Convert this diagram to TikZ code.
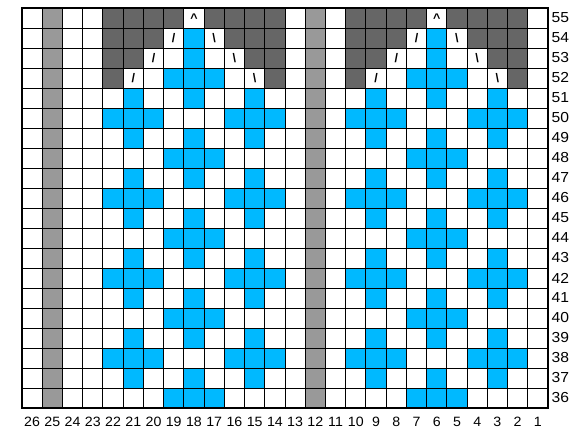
\documentclass[tikz,border=0pt]{standalone}
\usepackage{fontspec}
\setmainfont{Liberation Sans}
\definecolor{kblue}{RGB}{0,185,255}
\definecolor{kdark}{RGB}{102,102,102}
\definecolor{kgray}{RGB}{153,153,153}
\newcommand\kcw{20.2308}
\newcommand\kcell[3]{\fill[#1] ({22+(26-(#2))*\kcw},{8+(55-(#3))*20}) rectangle ++(\kcw,20);}
\tikzset{
  gridline/.style={line width=0.9pt,black},
  frameline/.style={line width=2.8pt,black},
  rowlab/.style={font=\fontsize{14.5}{14.5}\selectfont,inner sep=0pt,anchor=west,xscale=1.08},
  collab/.style={font=\fontsize{13.5}{13.5}\selectfont,inner sep=0pt,xscale=1.05},
  sym/.style={font=\bfseries\fontsize{12.5}{12.5}\selectfont,inner sep=0pt}
}
\begin{document}
\begin{tikzpicture}[x=1pt,y=-1pt]
\useasboundingbox (0,0) rectangle (585,433);
\fill[white] (0,0) rectangle (585,433);
% gray columns
\foreach \c in {25,12}{\fill[kgray] ({22+(26-\c)*\kcw},8) rectangle ++(\kcw,400);}
% motifs
\foreach \o in {0,12}{
  \foreach \r in {36,40,44,48,52}{\foreach \c in {19,18,17}{\kcell{kblue}{\c-\o}{\r}}}
  \foreach \r in {37,39,41,43,45,47,49,51}{\foreach \c in {21,18,15}{\kcell{kblue}{\c-\o}{\r}}}
  \foreach \r in {38,42,46,50}{\foreach \c in {22,21,20,16,15,14}{\kcell{kblue}{\c-\o}{\r}}}
  \kcell{kblue}{18-\o}{53}
  \kcell{kblue}{18-\o}{54}
  \foreach \c in {22,21,20,19,17,16,15,14}{\kcell{kdark}{\c-\o}{55}}
  \foreach \c in {22,21,20,16,15,14}{\kcell{kdark}{\c-\o}{54}}
  \foreach \c in {22,21,15,14}{\kcell{kdark}{\c-\o}{53}}
  \foreach \c in {22,14}{\kcell{kdark}{\c-\o}{52}}
}
% grid
\foreach \i in {0,...,26}{\draw[gridline] ({22+\i*\kcw},8) -- ++(0,400);}
\foreach \j in {0,...,20}{\draw[gridline] (22,{8+\j*20}) -- ++(526,0);}
\draw[frameline] (22,8) rectangle (548,408);
% symbols
\foreach \o/\n in {0/L,12/R}{
  \node[sym] (cap\n) at ({22+(26-18+\o+0.5)*\kcw},{8+0.5*20}) {\textasciicircum};
  \foreach \r/\a/\b in {54/19/17,53/20/16,52/21/15}{
    \node[sym] (sl\n\r) at ({22+(26-\a+\o+0.5)*\kcw},{8+(55-\r+0.5)*20}) {/};
    \node[sym] (bs\n\r) at ({22+(26-\b+\o+0.5)*\kcw},{8+(55-\r+0.5)*20}) {\textbackslash};
  }
}
% labels
\foreach \c in {1,...,26}{\node[collab] (b\c) at ({22+(26-\c+0.5)*\kcw},422) {\c};}
\foreach \r in {36,...,55}{\node[rowlab] (r\r) at (551.5,{8+(55-\r+0.5)*20}) {\r};}
\end{tikzpicture}
\end{document}
